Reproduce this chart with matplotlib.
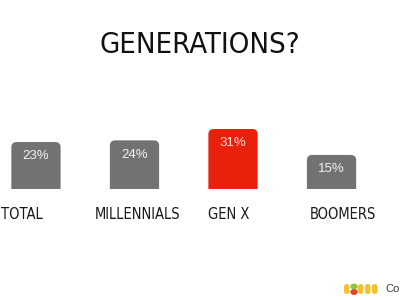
import matplotlib.pyplot as plt
import numpy as np
from matplotlib.patches import FancyBboxPatch, PathPatch
from matplotlib.path import Path

plt.rcParams['font.family'] = ['DejaVu Sans']

# data
categories = ["TOTAL", "MILLENNIALS", "GEN X", "BOOMERS"]
values = [23, 24, 31, 15]
labels = ["23%", "24%", "31%", "15%"]
highlight = "GEN X"

gray = "#727272"
red = "#e8200c"
base = -6  # bars start a bit below zero, like the original slide
# the handwritten labels are not quite centred under the bars
label_shift = [-0.14, 0.03, -0.04, 0.12]

fig = plt.figure(figsize=(4, 3), dpi=100)
ax = fig.add_axes([0, 0, 1, 1])
ax.set_xlim(-0.365, 3.695)
ax.set_ylim(-74.5, 110.6)
ax.axis("off")

x = np.arange(len(categories))
colors = [red if c == highlight else gray for c in categories]
bars = ax.bar(x, np.array(values) - base, bottom=base, width=0.5, color=colors)

# swap the plain bars for bars with rounded top corners
rx, ry = 0.055, 3.3
for b, col in zip(bars, colors):
    x0, y0 = b.get_x(), b.get_y()
    x1, y1 = x0 + b.get_width(), y0 + b.get_height()
    b.set_visible(False)
    verts = [(x0, y0), (x0, y1 - ry), (x0, y1), (x0 + rx, y1),
             (x1 - rx, y1), (x1, y1), (x1, y1 - ry), (x1, y0), (x0, y0)]
    codes = [Path.MOVETO, Path.LINETO, Path.CURVE3, Path.CURVE3,
             Path.LINETO, Path.CURVE3, Path.CURVE3, Path.LINETO, Path.CLOSEPOLY]
    ax.add_patch(PathPatch(Path(verts, codes), fc=col, ec="none"))

for xi, v, lab, c in zip(x, values, labels, categories):
    tc = "#ffe0d8" if c == highlight else "#f4f4f4"
    ax.text(xi, v - 8.8, lab, ha="center", va="center", color=tc,
            fontsize=9.5, family=['Liberation Sans', 'DejaVu Sans'])

for xi, c, s in zip(x, categories, label_shift):
    ax.text(xi + s, -21.5, c, ha="center", va="center", fontsize=10.5,
            fontstretch="condensed", color="#1a1a1a")

fig.text(0.5, 1 - 45 / 300, "GENERATIONS?", ha="center", va="center",
         fontsize=21, fontstretch="condensed", color="#111111")

# small logo in the corner
def px(xp, yp):
    return xp / 400, 1 - yp / 300

yellow = "#f3c12a"
for xp in [344, 358, 365, 372]:
    fig.add_artist(FancyBboxPatch(px(xp, 294), 5.5 / 400, 10 / 300,
                                  boxstyle="round,pad=0,rounding_size=0.007",
                                  mutation_aspect=1.33, fc=yellow, ec="none",
                                  transform=fig.transFigure))
fig.add_artist(plt.Circle(px(354, 286.5), 3 / 400, color="#8cc540",
                          transform=fig.transFigure))
fig.add_artist(plt.Circle(px(354, 292), 3 / 400, color="#e0472a",
                          transform=fig.transFigure))
fig.text(385 / 400, 1 - 289 / 300, "Co", ha="left", va="center",
         fontsize=8, color="#3a3a3a", family=['Liberation Sans', 'DejaVu Sans'])

fig.savefig("out.png", dpi=100, facecolor="white")
